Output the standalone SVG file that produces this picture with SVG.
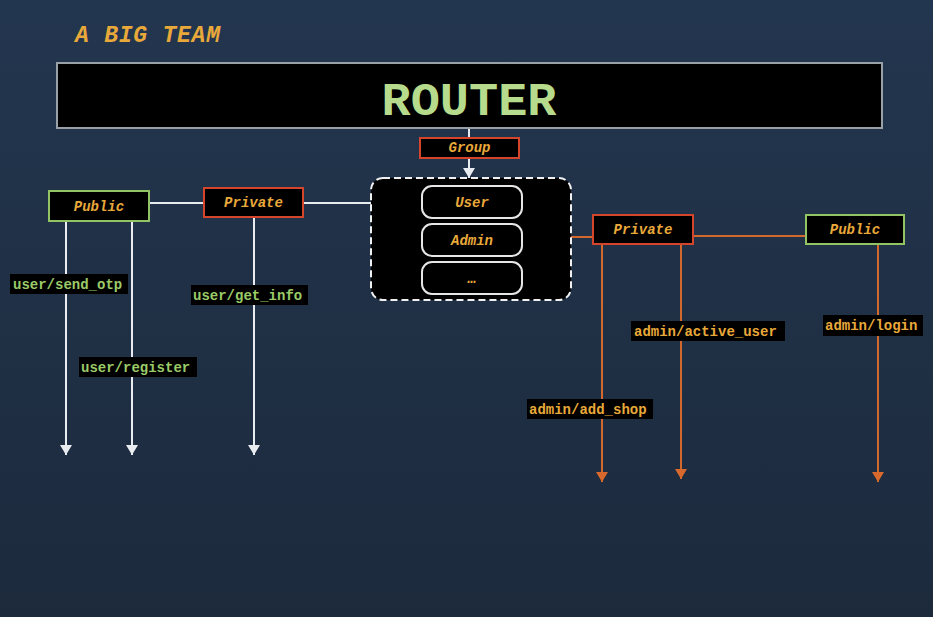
<svg xmlns="http://www.w3.org/2000/svg" width="933" height="617" viewBox="0 0 933 617">
<defs>
<linearGradient id="bg" x1="0" y1="0" x2="0" y2="1">
<stop offset="0" stop-color="#23364f"/>
<stop offset="1" stop-color="#1c2a3c"/>
</linearGradient>
<marker id="aw" viewBox="0 0 10 12" refX="10" refY="6" markerWidth="10" markerHeight="12" markerUnits="userSpaceOnUse" orient="auto">
<path d="M0,0 L10,6 L0,12 Z" fill="#e8ecf0"/>
</marker>
<marker id="ao" viewBox="0 0 10 12" refX="10" refY="6" markerWidth="10" markerHeight="12" markerUnits="userSpaceOnUse" orient="auto">
<path d="M0,0 L10,6 L0,12 Z" fill="#d9682c"/>
</marker>
<style>
.mono{font-family:"Liberation Mono","Courier New",monospace;font-weight:bold}
.bt{fill:#e9a93a;font-style:italic;font-size:14px;text-anchor:middle}
.box{fill:#000}
.red{stroke:#d4452b;stroke-width:2}
.grn{stroke:#93c463;stroke-width:2}
.pill{fill:#000;stroke:#e6e6e6;stroke-width:2}
.lbl{fill:#000}
.gt{fill:#9bcb69;font-size:14px}
.ot{fill:#e9a93a;font-size:14px}
.wl{stroke:#e8ecf0;stroke-width:2;fill:none}
.ol{stroke:#d2682e;stroke-width:2;fill:none}
</style>
</defs>
<rect width="933" height="617" fill="url(#bg)"/>
<text class="mono" x="75" y="42" font-size="23" font-style="italic" fill="#e9a93a" textLength="145">A BIG TEAM</text>

<g id="connectors">
<line class="wl" x1="469" y1="128" x2="469" y2="138"/>
<line class="wl" x1="469" y1="159" x2="469" y2="178" marker-end="url(#aw)"/>
<line class="wl" x1="149" y1="203" x2="204" y2="203"/>
<line class="wl" x1="303" y1="203" x2="422" y2="203"/>
<line class="wl" x1="66" y1="221" x2="66" y2="455" marker-end="url(#aw)"/>
<line class="wl" x1="132" y1="221" x2="132" y2="455" marker-end="url(#aw)"/>
<line class="wl" x1="254" y1="217" x2="254" y2="455" marker-end="url(#aw)"/>
<line class="ol" x1="523" y1="237" x2="593" y2="237"/>
<line class="ol" x1="693" y1="236" x2="806" y2="236"/>
<line class="ol" x1="602" y1="244" x2="602" y2="482" marker-end="url(#ao)"/>
<line class="ol" x1="681" y1="244" x2="681" y2="479" marker-end="url(#ao)"/>
<line class="ol" x1="878" y1="244" x2="878" y2="482" marker-end="url(#ao)"/>
</g>

<g id="router">
<rect x="57" y="63" width="825" height="65" fill="#000" stroke="#9aa0a8" stroke-width="2"/>
<text class="mono" x="469" y="115" font-size="46" fill="#b7db8c" text-anchor="middle" textLength="175" lengthAdjust="spacingAndGlyphs">ROUTER</text>
</g>

<g id="group">
<rect class="box red" x="420" y="138" width="99" height="20"/>
<text class="mono bt" x="469.5" y="152" font-size="11">Group</text>
</g>

<g id="container">
<rect x="371" y="178" width="200" height="122" rx="12" fill="#000" stroke="#f0f0f0" stroke-width="2" stroke-dasharray="7 4"/>
</g>
<g id="user">
<rect class="pill" x="422" y="186" width="100" height="32" rx="10"/>
<text class="mono bt" x="472" y="207">User</text>
</g>
<g id="admin">
<rect class="pill" x="422" y="224" width="100" height="32" rx="10"/>
<text class="mono bt" x="472" y="245">Admin</text>
</g>
<g id="more">
<rect class="pill" x="422" y="262" width="100" height="32" rx="10"/>
<text class="mono bt" x="472" y="283" font-size="11">…</text>
</g>

<g id="public-user">
<rect class="box grn" x="49" y="191" width="100" height="30"/>
<text class="mono bt" x="99" y="211">Public</text>
</g>
<g id="private-user">
<rect class="box red" x="204" y="188" width="99" height="29"/>
<text class="mono bt" x="253.5" y="207">Private</text>
</g>
<g id="private-admin">
<rect class="box red" x="593" y="215" width="100" height="29"/>
<text class="mono bt" x="643" y="234">Private</text>
</g>
<g id="public-admin">
<rect class="box grn" x="806" y="215" width="98" height="29"/>
<text class="mono bt" x="855" y="234">Public</text>
</g>

<g id="route-send-otp">
<rect class="lbl" x="10" y="274" width="118" height="20"/>
<text class="mono gt" x="13" y="289">user/send_otp</text>
</g>
<g id="route-get-info">
<rect class="lbl" x="191" y="285" width="117" height="20"/>
<text class="mono gt" x="193" y="300">user/get_info</text>
</g>
<g id="route-register">
<rect class="lbl" x="79" y="357" width="118" height="20"/>
<text class="mono gt" x="81" y="372">user/register</text>
</g>
<g id="route-active-user">
<rect class="lbl" x="631" y="321" width="154" height="20"/>
<text class="mono ot" x="634" y="336">admin/active_user</text>
</g>
<g id="route-login">
<rect class="lbl" x="823" y="315" width="100" height="21"/>
<text class="mono ot" x="825" y="330">admin/login</text>
</g>
<g id="route-add-shop">
<rect class="lbl" x="527" y="399" width="126" height="20"/>
<text class="mono ot" x="529" y="414">admin/add_shop</text>
</g>
</svg>
